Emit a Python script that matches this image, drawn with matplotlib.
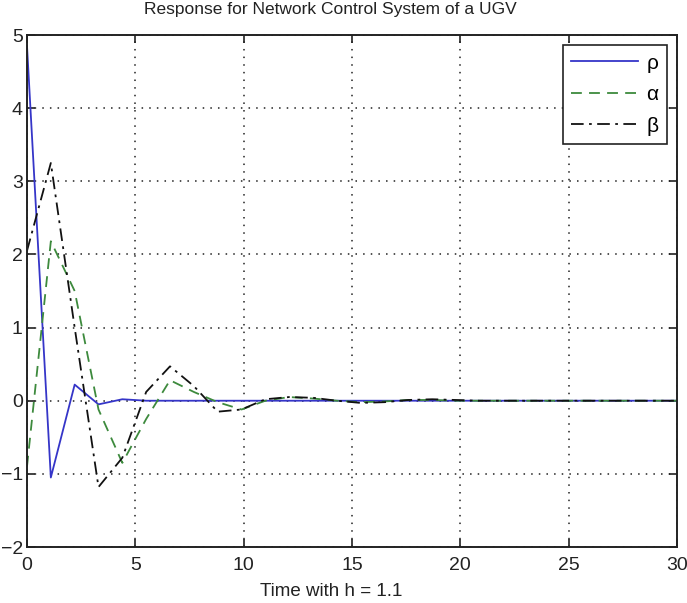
import matplotlib
matplotlib.use("Agg")
import matplotlib.pyplot as plt

# sampled response, step h = 1.1
t = [0.0, 1.1, 2.2, 3.3, 4.4, 5.5, 6.6, 7.7, 8.8, 9.9, 11.0, 12.1, 13.2, 14.3,
     15.4, 16.5, 17.6, 18.7, 19.8, 20.9, 22.0, 23.1, 24.2, 25.3, 26.4, 27.5,
     28.6, 29.7, 30.8]
rho = [4.85, -1.05, 0.22, -0.05, 0.02, 0.0, 0.0, 0.0, 0.0, 0.0, 0.0, 0.0, 0.0,
       0.0, 0.0, 0.0, 0.0, 0.0, 0.0, 0.0, 0.0, 0.0, 0.0, 0.0, 0.0, 0.0, 0.0,
       0.0, 0.0]
alpha = [-0.9, 2.18, 1.5, -0.12, -0.85, -0.25, 0.28, 0.12, -0.02, -0.12, 0.0,
         0.05, 0.03, 0.0, -0.02, -0.01, 0.01, 0.01, 0.0, 0.0, 0.0, 0.0, 0.0,
         0.0, 0.0, 0.0, 0.0, 0.0, 0.0]
beta = [2.05, 3.25, 1.0, -1.18, -0.78, 0.12, 0.47, 0.2, -0.15, -0.12, 0.02,
        0.05, 0.04, 0.0, -0.03, -0.02, 0.01, 0.02, 0.01, 0.0, 0.0, 0.0, 0.0,
        0.0, 0.0, 0.0, 0.0, 0.0, 0.0]
labels = ["\u03c1", "\u03b1", "\u03b2"]

xticks = [0, 5, 10, 15, 20, 25, 30]
yticks = [-2, -1, 0, 1, 2, 3, 4, 5]

plt.rcParams["font.family"] = ["Liberation Sans", "DejaVu Sans"]

fig = plt.figure(figsize=(6.87, 6.03), dpi=100)
ax = fig.add_axes([27 / 687, 1 - 547 / 603, 650 / 687, 512 / 603])

ax.plot(t, rho, color="#3535c8", lw=1.3, label=labels[0])
ax.plot(t, alpha, color="#3d8a3d", lw=1.3, ls=(0, (6, 4)), label=labels[1])
ax.plot(t, beta, color="#111111", lw=1.3, ls=(0, (7, 3, 1.5, 3)), label=labels[2])

ax.set_xlim(0, 30)
ax.set_ylim(-2, 5)
ax.set_xticks(xticks)
ax.set_yticks(yticks)
ax.grid(True, color="#222222", ls=(0, (1, 4)), lw=1.1)
ax.tick_params(direction="in", top=True, right=True, length=6, width=1.2,
               labelsize=14, colors="#222222")
ax.tick_params(axis="x", pad=7)
ax.tick_params(axis="y", pad=3)
for s in ax.spines.values():
    s.set_linewidth(1.4)
    s.set_color("#222222")

# title and label sit a bit left of the axes centre in the original
ax.set_title("Response for Network Control System of a UGV", fontsize=12.5,
             color="#222222", pad=15, x=0.466)
ax.set_xlabel("Time with h = 1.1", fontsize=13.5, color="#222222", labelpad=7,
              x=0.468)

leg = ax.legend(loc="upper right", fontsize=15, handlelength=3.2,
                borderaxespad=0.5, fancybox=False, edgecolor="#222222",
                framealpha=1, labelspacing=0.6, handletextpad=0.4)
leg.get_frame().set_linewidth(1.2)

fig.savefig("out.png", dpi=100)
